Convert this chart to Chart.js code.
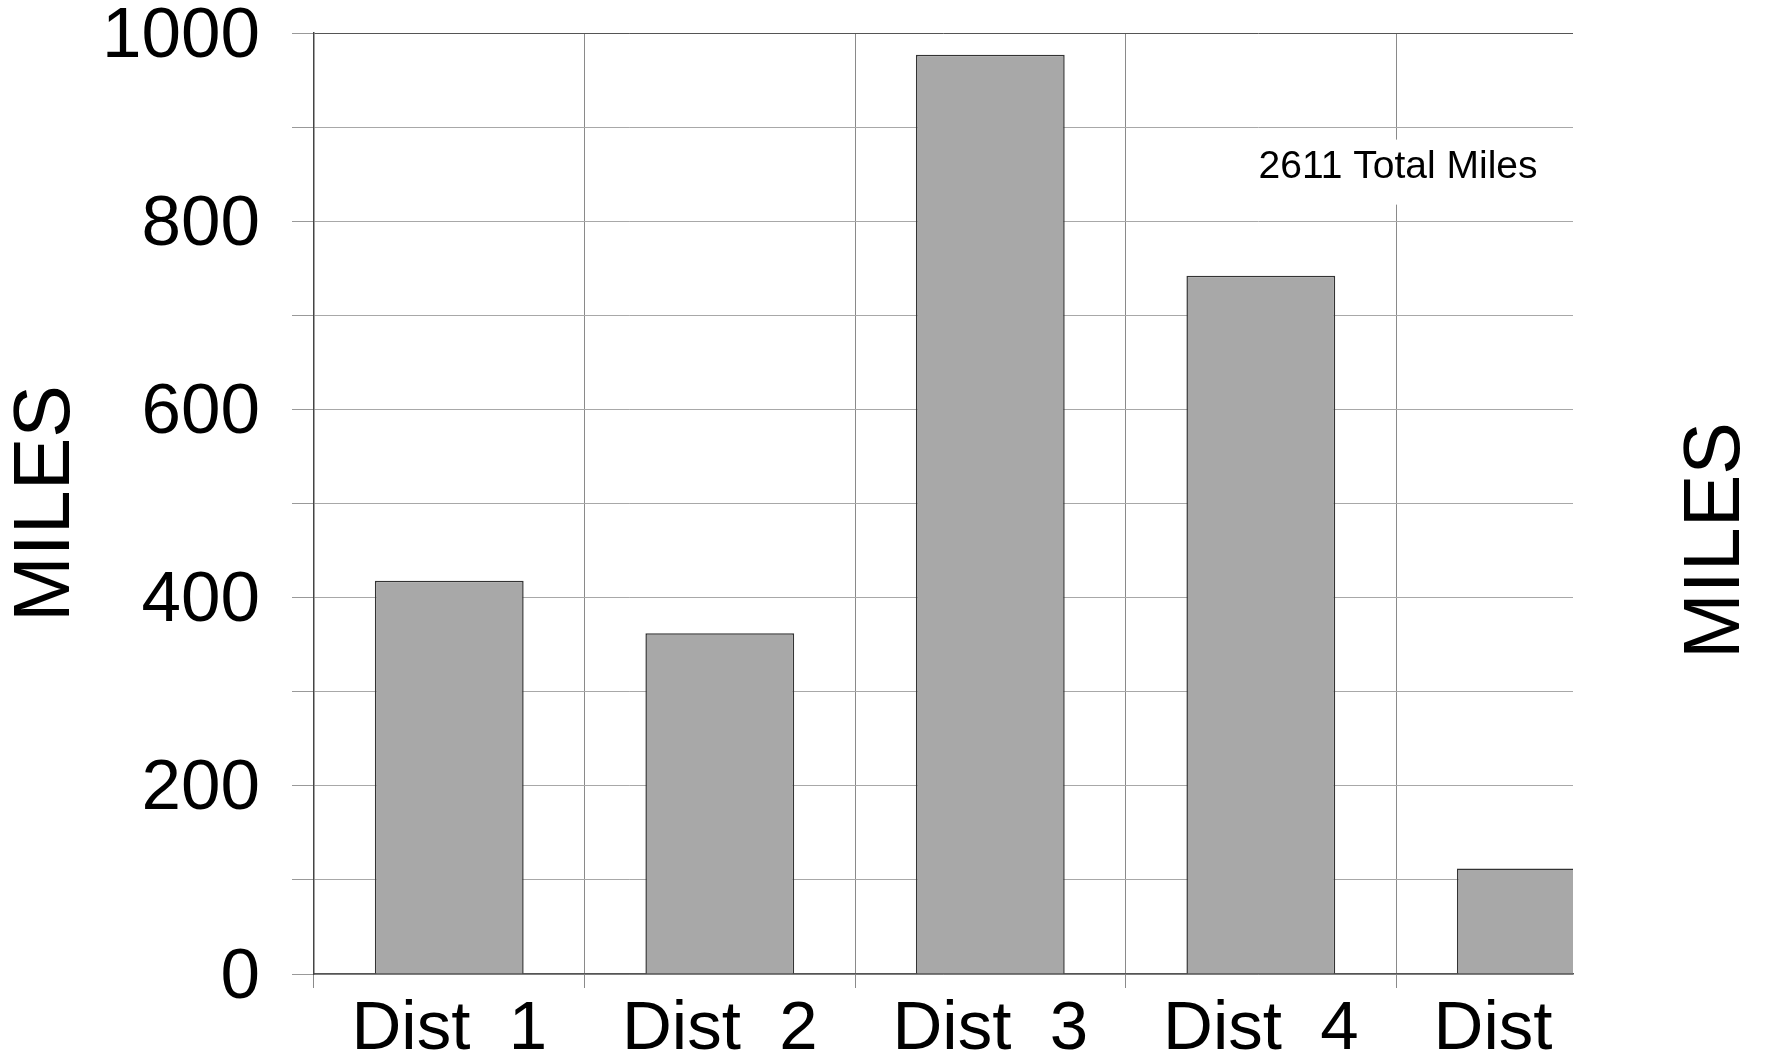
<!DOCTYPE html>
<html lang="en">
<head>
  <meta charset="UTF-8">
  <title>Miles by District</title>
  <script src="https://cdn.jsdelivr.net/npm/chart.js"></script>
  <style>
    html, body { margin: 0; padding: 0; background: #ffffff; }
    canvas { display: block; }
  </style>
</head>
<body>
  <canvas id="milesChart" width="1766" height="1059"></canvas>

  <script>
    const categories = ['Dist  1', 'Dist  2', 'Dist  3', 'Dist  4', 'Dist  5'];
    const miles = [418, 362, 977, 742, 112];
    const yTickLabels = [0, 200, 400, 600, 800, 1000];
    const axisTitle = 'MILES';
    const totalNote = '2611 Total Miles';

    const FONT = "'Liberation Sans', Arial, sans-serif";

    // the original plot is cut off part way into the 5th district, so clip to the plot edge
    const clipPlot = {
      id: 'clipPlot',
      beforeDraw(chart) {
        const ctx = chart.ctx;
        ctx.save();
        ctx.beginPath();
        ctx.rect(0, 0, chart.chartArea.right + 1, chart.height);
        ctx.clip();
      },
      afterDraw(chart) {
        const ctx = chart.ctx;
        ctx.restore();

        const x = chart.scales.x;
        const y = chart.scales.y;

        // total note with its white box
        const nx = x.getPixelForValue(4.5);
        const ny = y.getPixelForValue(858);
        ctx.save();
        ctx.fillStyle = '#ffffff';
        ctx.fillRect(nx - 150, ny - 27, 300, 65);
        ctx.fillStyle = '#000000';
        ctx.font = '39px ' + FONT;
        ctx.textAlign = 'center';
        ctx.textBaseline = 'middle';
        ctx.fillText(totalNote, nx + 2, ny + 1);
        ctx.restore();

        // second axis title on the right, same direction as the left one
        ctx.save();
        ctx.translate(chart.chartArea.right + 144, (chart.chartArea.top + chart.chartArea.bottom) / 2 + 37);
        ctx.rotate(-Math.PI / 2);
        ctx.fillStyle = '#000000';
        ctx.font = '79px ' + FONT;
        ctx.textAlign = 'center';
        ctx.textBaseline = 'middle';
        ctx.fillText(axisTitle, 0, 0);
        ctx.restore();
      }
    };

    const ctx = document.getElementById('milesChart').getContext('2d');
    new Chart(ctx, {
      type: 'bar',
      data: {
        datasets: [{
          label: axisTitle,
          data: miles.map((v, i) => ({ x: i + 1, y: v })),
          backgroundColor: '#a8a8a8',
          borderColor: '#333333',
          borderWidth: 1.5,
          categoryPercentage: 1,
          barPercentage: 0.55
        }]
      },
      options: {
        responsive: false,
        animation: false,
        devicePixelRatio: 1,
        layout: {
          padding: { left: 0, top: 33, right: 193, bottom: 0 }
        },
        plugins: {
          legend: { display: false },
          tooltip: { enabled: false }
        },
        scales: {
          x: {
            type: 'linear',
            offset: false,
            min: 0.5,
            max: 5.154,
            afterBuildTicks: scale => {
              scale.ticks = categories.map((c, i) => ({ value: i + 1 }));
            },
            afterFit: scale => { scale.height = 85; },
            ticks: {
              color: '#000000',
              font: { family: FONT, size: 69, lineHeight: 1 },
              padding: 7,
              maxRotation: 0,
              autoSkip: false,
              callback: value => categories[value - 1] || ''
            },
            grid: {
              offset: true,
              color: '#8a8a8a',
              tickColor: '#8a8a8a',
              tickLength: 14,
              lineWidth: 1
            },
            border: { color: '#555555', width: 1.5 }
          },
          y: {
            min: 0,
            max: 1000,
            afterFit: scale => {
              scale.width = 314;
              scale.paddingTop = 0;
              scale.paddingBottom = 0;
            },
            ticks: {
              stepSize: 100,
              color: '#000000',
              font: { family: FONT, size: 71, lineHeight: 0.9 },
              padding: 32,
              labelOffset: 4,
              callback: value => yTickLabels.includes(value) ? String(value) : ''
            },
            grid: {
              color: c => c.tick && c.tick.value === 1000 ? '#555555' : '#a8a8a8',
              tickColor: '#999999',
              tickLength: 22,
              lineWidth: 1
            },
            border: { color: '#444444', width: 1.5 },
            title: {
              display: true,
              text: axisTitle,
              color: '#000000',
              font: { family: FONT, size: 79, lineHeight: 1.2 },
              padding: 0
            }
          }
        }
      },
      plugins: [clipPlot]
    });
  </script>
</body>
</html>
